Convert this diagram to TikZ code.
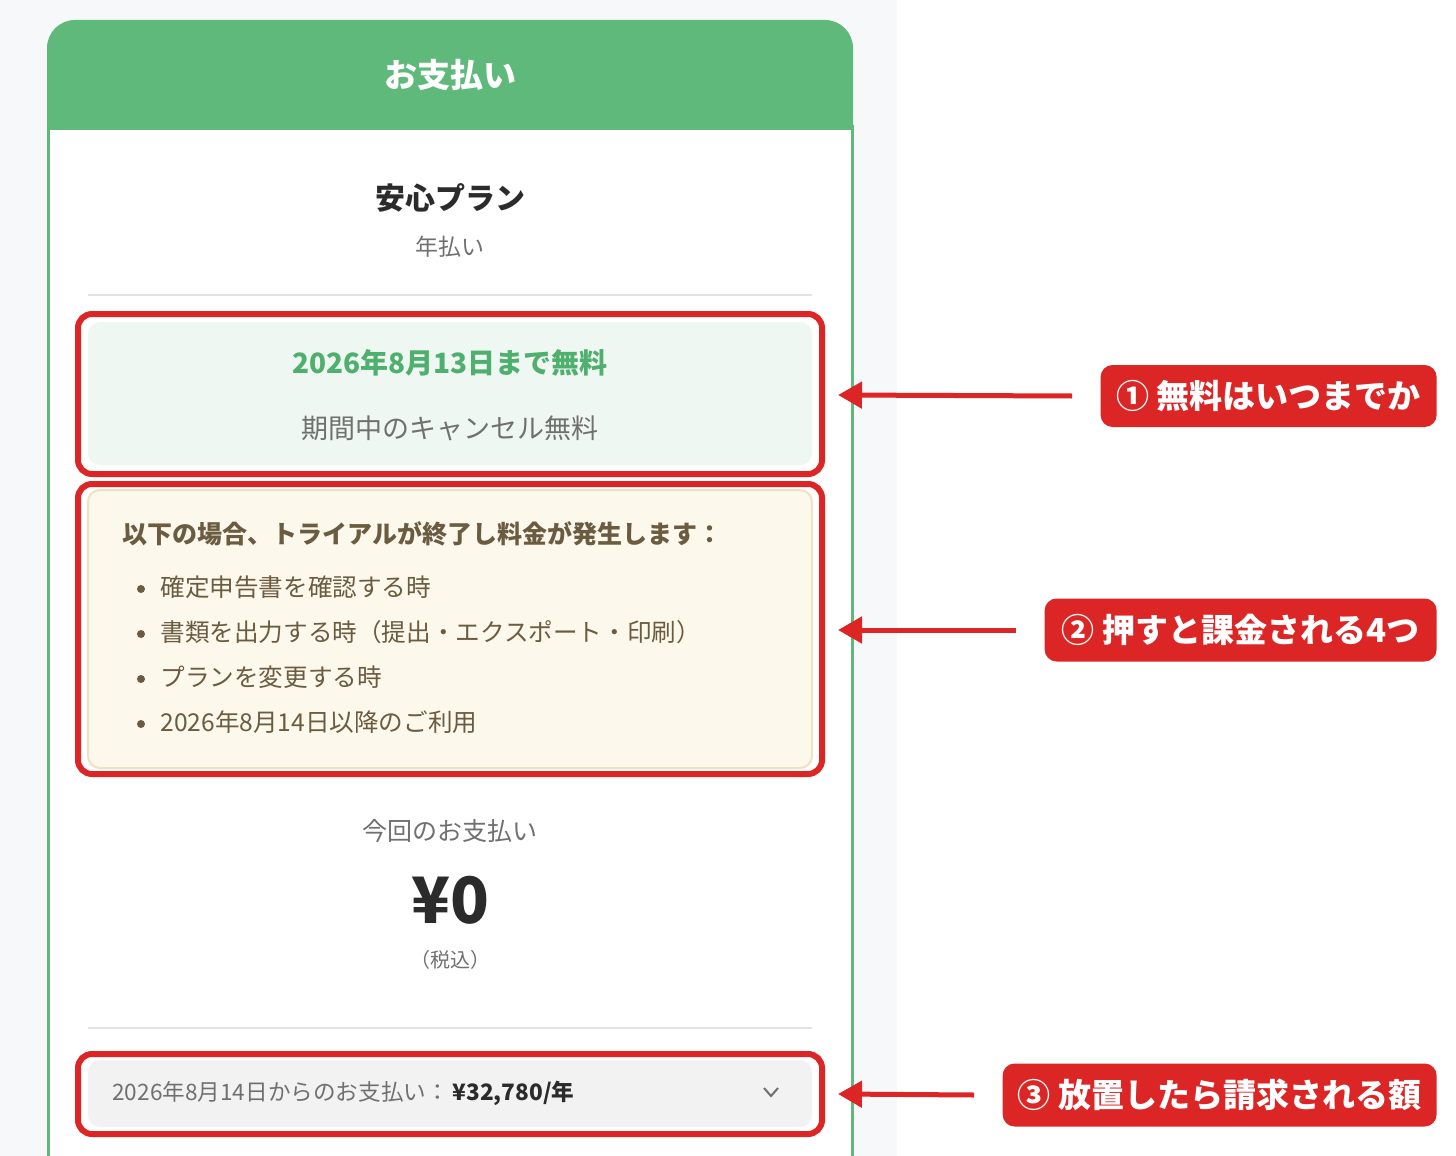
\documentclass[tikz,border=0pt]{standalone}
\usepackage{fontspec}
\setmainfont{Noto Sans CJK JP}
\usetikzlibrary{arrows.meta}
\definecolor{bgl}{HTML}{F7F8FA}
\definecolor{grn}{HTML}{5FB97A}
\definecolor{grt}{HTML}{4FAF6E}
\definecolor{redc}{HTML}{DC2626}
\definecolor{gbox}{HTML}{EEF7F1}
\definecolor{ybox}{HTML}{FDF8EC}
\definecolor{yline}{HTML}{EFE2C2}
\definecolor{brn}{HTML}{6B5B40}
\definecolor{txg}{HTML}{707070}
\definecolor{dk}{HTML}{2B2B2B}
\definecolor{div}{HTML}{E2E2E2}
\tikzset{
  redbox/.style={draw=redc,line width=3pt,rounded corners=7pt},
  tag/.style={fill=redc,rounded corners=6pt,text=white,font=\fontsize{16.5}{19}\selectfont\bfseries,inner sep=0pt,anchor=east},
  arr/.style={draw=redc,line width=2.5pt,-{Triangle[length=12pt,width=13pt]}},
  t/.style={inner sep=0pt},
}
\begin{document}
\begin{tikzpicture}[x=0.5pt,y=-0.5pt]
\useasboundingbox (0,0) rectangle (1456,1156);
\fill[bgl] (0,0) rectangle (897,1156);
\fill[white] (897,0) rectangle (1456,1156);
% card
\fill[white] (48,128) rectangle (852,1160);
\draw[grn,line width=1.5pt] (48,125) -- (48,1160) (852,125) -- (852,1160);
\fill[grn,rounded corners=14pt] (47,20) rectangle (853,100);
\fill[grn] (47,60) rectangle (853,130);
\node[t,text=white,font=\fontsize{16.5}{19}\selectfont\bfseries] (hd) at (450,75) {お支払い};
\node[t,text=dk,font=\fontsize{15}{18}\selectfont\bfseries] (plan) at (450,198) {安心プラン};
\node[t,text=txg,font=\fontsize{11.5}{13}\selectfont] (yr) at (450,247) {年払い};
\draw[div,line width=1pt] (88,295) -- (812,295);
% box 1
\fill[gbox,rounded corners=6pt] (88,322) rectangle (812,465);
\draw[redbox] (78,314) rectangle (822,474);
\node[t,text=grt,font=\fontsize{14}{16}\selectfont\bfseries] (free) at (450,363) {2026年8月13日まで無料};
\node[t,text=txg,font=\fontsize{13.5}{15}\selectfont] (cancel) at (450,428) {期間中のキャンセル無料};
% box 2
\filldraw[fill=ybox,draw=yline,line width=1pt,rounded corners=6pt] (88,490) rectangle (812,768);
\draw[redbox] (78,484) rectangle (822,774);
\node[t,anchor=west,text=brn,font=\fontsize{12.5}{14}\selectfont\bfseries] (cond) at (122,534) {以下の場合、トライアルが終了し料金が発生します：};
\foreach \y/\s [count=\i] in {587/確定申告書を確認する時,632/書類を出力する時（提出・エクスポート・印刷）,677/プランを変更する時,722/2026年8月14日以降のご利用}{
  \fill[brn] (141,\y+2) circle (2pt);
  \node[t,anchor=west,text=brn,font=\fontsize{12.3}{14}\selectfont] (b\i) at (160,\y) {\s};
}
% payment
\node[t,text=txg,font=\fontsize{12.5}{13}\selectfont] (now) at (450,831) {今回のお支払い};
\node[t,text=dk,font=\fontsize{32}{36}\selectfont\bfseries] (zero) at (450,900) {¥0};
\node[t,text=txg,font=\fontsize{10}{12}\selectfont] (tax) at (450,960) {（税込）};
\draw[div,line width=1pt] (88,1028) -- (812,1028);
% box 3
\fill[black!5,rounded corners=6pt] (88,1060) rectangle (812,1127);
\draw[redbox] (78,1054) rectangle (822,1134);
\node[t,anchor=west,font=\fontsize{11.3}{13}\selectfont] (later) at (112,1093) {\textcolor{txg}{2026年8月14日からのお支払い：}\,\textcolor{dk}{\bfseries ¥32,780/年}};
\draw[txg,line width=1pt] (764,1088) -- (771,1096) -- (778,1088);
% tags
\node[tag,minimum width=168pt,minimum height=31pt] (t1) at (1437,396) {① 無料はいつまでか};
\node[tag,minimum width=196pt,minimum height=31.5pt] (t2) at (1437,630) {② 押すと課金される4つ};
\node[tag,minimum width=217pt,minimum height=31.5pt] (t3) at (1437,1095) {③ 放置したら請求される額};
\coordinate (a1) at (838,395);
\coordinate (a2) at (838,630);
\coordinate (a3) at (838,1094);
\draw[arr] ([xshift=-14pt]t1.west) -- (a1);
\draw[arr] ([xshift=-14pt]t2.west) -- (a2);
\draw[arr] ([xshift=-14pt]t3.west) -- (a3);
\end{tikzpicture}
\end{document}
